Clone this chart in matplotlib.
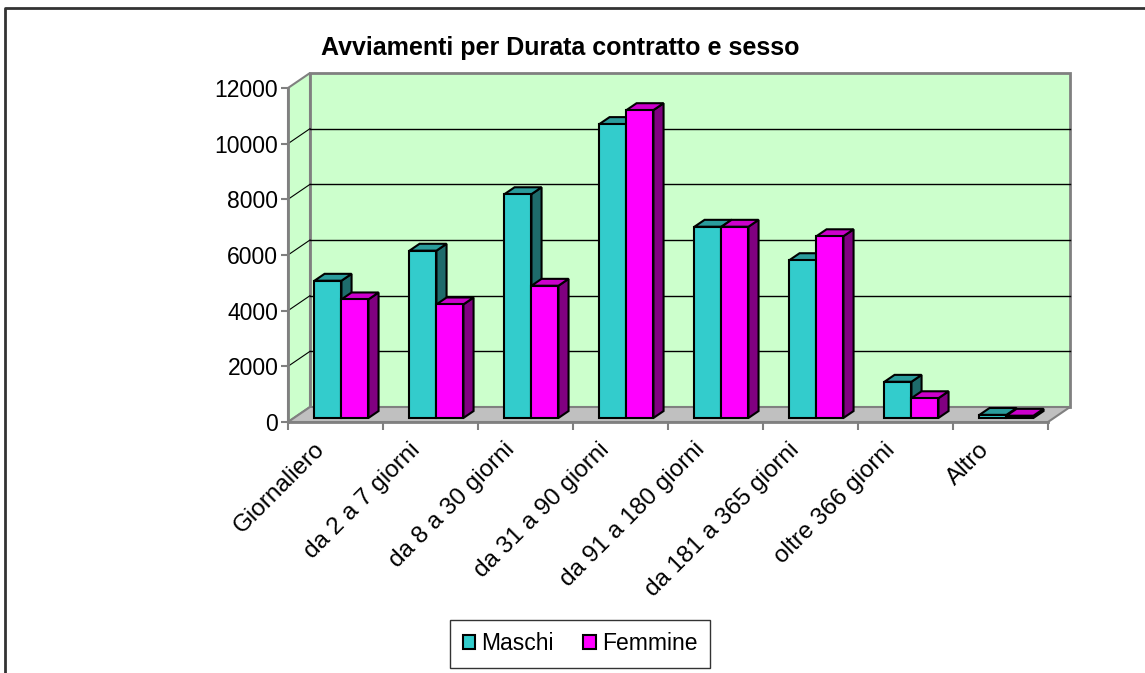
import matplotlib
matplotlib.use("Agg")
from matplotlib import pyplot as plt
from matplotlib.patches import Polygon, Rectangle, Patch
from matplotlib.lines import Line2D
from matplotlib.transforms import ScaledTranslation
import numpy as np

plt.rcParams["font.family"] = ["Liberation Sans", "DejaVu Sans"]

categories = [
    "Giornaliero",
    "da 2 a 7 giorni",
    "da 8 a 30 giorni",
    "da 31 a 90 giorni",
    "da 91 a 180 giorni",
    "da 181 a 365 giorni",
    "oltre 366 giorni",
    "Altro",
]
maschi = [4930, 6010, 8040, 10560, 6870, 5670, 1300, 110]
femmine = [4260, 4080, 4750, 11060, 6870, 6530, 710, 80]
y_ticks = [0, 2000, 4000, 6000, 8000, 10000, 12000]

W, H = 1145, 673
fig = plt.figure(figsize=(W / 100, H / 100), dpi=100)

# front plane of the 3D box, in pixels
left, right, bottom, top = 288, 1048, 422, 88
ax = fig.add_axes([left / W, 1 - bottom / H, (right - left) / W, (bottom - top) / H])
n = len(categories)
ymax = y_ticks[-1]
ax.set_xlim(0, n)
ax.set_ylim(0, ymax)
ax.patch.set_visible(False)

# depth of the box in pixels -> data units
px_per_cat = (right - left) / n
px_per_val = (bottom - top) / ymax
depth_px = (22, 15)
wdx = depth_px[0] / px_per_cat
wdy = depth_px[1] / px_per_val

wall = "#CCFFCC"
gray = "#808080"

# back wall, side wall, floor
ax.add_patch(Rectangle((wdx, wdy), n, ymax, facecolor=wall, edgecolor=gray,
                       lw=2, clip_on=False, zorder=0))
ax.add_patch(Polygon([(0, 0), (wdx, wdy), (wdx, ymax + wdy), (0, ymax)],
                     facecolor=wall, edgecolor=gray, lw=1.5, clip_on=False, zorder=0.5))
ax.add_patch(Polygon([(0, 0), (n, 0), (n + wdx, wdy), (wdx, wdy)],
                     facecolor="#C0C0C0", edgecolor=gray, lw=1.5, clip_on=False, zorder=0.6))
for t in y_ticks[1:-1]:
    ax.plot([wdx, n + wdx], [t + wdy, t + wdy], color="black", lw=1, clip_on=False, zorder=0.7)
    ax.plot([0, wdx], [t, t + wdy], color="black", lw=0.8, clip_on=False, zorder=0.7)

# bars: front face sits partway into the depth
f0, f1 = 0.27, 0.73
bw = 27 / px_per_cat
bdx = (f1 - f0) * wdx
bdy = (f1 - f0) * wdy
x0 = np.arange(n) + (1 - 2 * bw) / 2 + f0 * wdx
base = f0 * wdy

series = [
    (maschi, "#33CCCC", "#2A9C9C", "#1E6B6B", 0),
    (femmine, "#FF00FF", "#CC00CC", "#800080", 1),
]
for vals, front, topc, side, k in series:
    z = 2 + 2 * k
    xs = x0 + k * bw
    for xl, v in zip(xs, vals):
        yt = base + v
        ax.add_patch(Polygon([(xl + bw, base), (xl + bw + bdx, base + bdy),
                              (xl + bw + bdx, yt + bdy), (xl + bw, yt)],
                             facecolor=side, edgecolor="black", lw=1.5, zorder=z, clip_on=False))
        ax.add_patch(Polygon([(xl, yt), (xl + bdx, yt + bdy), (xl + bw + bdx, yt + bdy),
                              (xl + bw, yt)],
                             facecolor=topc, edgecolor="black", lw=1.5, zorder=z, clip_on=False))
    ax.bar(xs, vals, width=bw, bottom=base, align="edge", color=front,
           edgecolor="black", lw=1.5, zorder=z + 1, clip_on=False)

# axes
for s in ["top", "right"]:
    ax.spines[s].set_visible(False)
for s in ["left", "bottom"]:
    ax.spines[s].set_color(gray)
    ax.spines[s].set_linewidth(2)
    ax.spines[s].set_zorder(0.8)
ax.set_yticks(y_ticks)
ax.set_yticklabels([str(t) for t in y_ticks], fontsize=16.5)
ax.tick_params(axis="y", length=5, width=1.5, color=gray, pad=2)
ax.set_xticks(np.arange(n + 1))
ax.set_xticklabels([])
ax.tick_params(axis="x", which="major", length=6, width=1.5, color=gray)
ax.set_xticks(np.arange(n) + 0.5, minor=True)
ax.set_xticklabels(categories, minor=True, rotation=45, ha="right",
                   rotation_mode="anchor", fontsize=17.5)
ax.tick_params(axis="x", which="minor", length=0, pad=12)
shift = ScaledTranslation(-0.22, 0, fig.dpi_scale_trans)
for lbl in ax.get_xticklabels(minor=True):
    lbl.set_transform(lbl.get_transform() + shift)

fig.text(0.489, 1 - 48 / H, "Avviamenti per Durata contratto e sesso",
         ha="center", va="center", fontsize=18, fontweight="bold")

handles = [Patch(facecolor="#33CCCC", edgecolor="black", lw=1.5, label="Maschi"),
           Patch(facecolor="#FF00FF", edgecolor="black", lw=1.5, label="Femmine")]
leg = fig.legend(handles=handles, loc="center", bbox_to_anchor=(580 / W, 1 - 644 / H),
                 ncol=2, fontsize=16.5, frameon=True, fancybox=False, edgecolor="black",
                 handlelength=0.55, handleheight=0.55, handletextpad=0.25, columnspacing=1.3,
                 borderpad=0.55)
leg.get_frame().set_linewidth(1)

# outer chart border (right and bottom edges fall outside the picture)
fig.add_artist(Line2D([5 / W, 5 / W, 1.0], [0.0, 1 - 8 / H, 1 - 8 / H],
                      transform=fig.transFigure, color="#333333", lw=2))

fig.savefig("out.png", dpi=100)
